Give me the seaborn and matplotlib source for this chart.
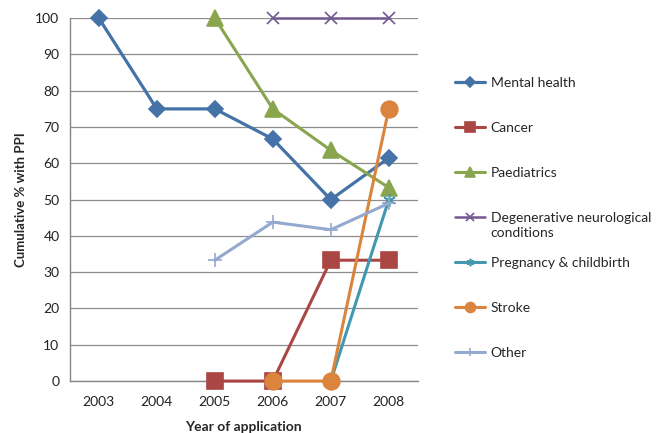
"""
Cumulative % of applications with PPI, by year and condition
"""

import numpy as np
import pandas as pd
import matplotlib
matplotlib.use('Agg')
import matplotlib.pyplot as plt
import seaborn as sns

sns.set_style('white')
plt.rcParams['font.family'] = ['Lato', 'DejaVu Sans']

years = ['2003', '2004', '2005', '2006', '2007', '2008']

# values per series, NaN where no applications yet
mental_health = [100, 75, 75, 66.7, 50, 61.5]
cancer = [np.nan, np.nan, 0, 0, 33.3, 33.3]
paediatrics = [np.nan, np.nan, 100, 75, 63.6, 53.3]
degenerative = [np.nan, np.nan, np.nan, 100, 100, 100]
pregnancy = [np.nan, np.nan, np.nan, np.nan, 0, 50]
stroke = [np.nan, np.nan, np.nan, 0, 0, 75]
other = [np.nan, np.nan, 33.3, 43.8, 41.7, 49.0]

series_names = ['Mental health', 'Cancer', 'Paediatrics',
                'Degenerative neurological',
                'Pregnancy & childbirth', 'Stroke', 'Other']
series_values = [mental_health, cancer, paediatrics, degenerative,
                 pregnancy, stroke, other]

colors = ['#4572A7', '#AA4643', '#89A54E', '#71588F', '#4198AF', '#DB843D', '#93A9CF']
markers = ['D', 's', '^', 'x', (6, 2, 0), 'o', '+']
msizes = [8, 11, 11, 9, 9, 12, 10]
lwidths = [2.3, 2.2, 2.2, 1.8, 2.2, 2.2, 2.2]

fig = plt.figure(figsize=(6.59, 4.33), dpi=100)
ax = fig.add_axes([0.106, 0.12, 0.528, 0.838])

pos = np.arange(len(years))
for name, vals, c, m, ms, lw in zip(series_names, series_values, colors, markers, msizes, lwidths):
    df = pd.DataFrame({'x': pos, 'y': vals}).dropna()
    sns.lineplot(data=df, x='x', y='y', ax=ax, color=c, marker=m, markersize=ms,
                 linewidth=lw, label=name, markeredgecolor=c, markeredgewidth=1.2,
                 clip_on=False, zorder=3)

ax.set_xlim(-0.5, len(years) - 0.5)
ax.set_ylim(0, 100)
ax.set_yticks(np.arange(0, 101, 10))
ax.set_xticks(pos)
ax.set_xticklabels(years)
ax.set_xticks(np.arange(-0.5, len(years), 1), minor=True)
ax.tick_params(axis='x', which='major', length=0, labelsize=10, pad=11, colors='#222222')
ax.tick_params(axis='x', which='minor', length=5, color='#868686', width=1)
ax.tick_params(axis='y', length=4, color='#868686', labelsize=10, colors='#222222')
ax.yaxis.grid(True, color='#8c8c8c', linewidth=0.9)
ax.set_axisbelow(True)

for side in ['top', 'right']:
    ax.spines[side].set_visible(False)
for side in ['left', 'bottom']:
    ax.spines[side].set_color('#868686')
    ax.spines[side].set_linewidth(1)

ax.set_xlabel('Year of application', fontsize=10, fontweight='bold', labelpad=9)
ax.set_ylabel('Cumulative % with PPI', fontsize=9.5, fontweight='bold', labelpad=6)

handles, labels = ax.get_legend_handles_labels()
ax.get_legend().remove()
leg = fig.legend(handles, labels, loc='upper left', bbox_to_anchor=(0.672, 0.851),
                 frameon=False, fontsize=10, labelspacing=2.38, handlelength=2.1,
                 handletextpad=0.45, markerscale=0.6)

# second line of the wrapped legend label, under its first line
fig.canvas.draw()
bb = leg.get_texts()[3].get_window_extent().transformed(fig.transFigure.inverted())
fig.text(bb.x0, bb.y0 - 0.006, 'conditions', fontsize=10, va='top', ha='left')

fig.savefig('out.png', dpi=100)
